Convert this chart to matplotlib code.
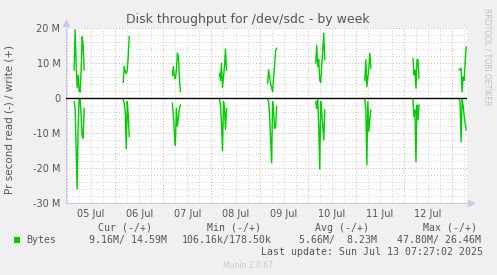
import numpy as np
import pandas as pd
import matplotlib
matplotlib.use("Agg")
import matplotlib.pyplot as plt
import matplotlib.dates as mdates
from matplotlib.ticker import MultipleLocator, FuncFormatter

# munin week graph, 30 min steps, values in MB/s
t_start = "2025-07-04 23:27"
t_end = "2025-07-13 07:27"

burst_start = ["2025-07-05 03:30", "2025-07-06 04:00", "2025-07-07 04:30",
               "2025-07-08 04:00", "2025-07-09 04:00", "2025-07-10 04:00",
               "2025-07-11 04:30", "2025-07-12 04:30", "2025-07-13 03:30"]

write_mb = [
    [8, 19.5, 10, 3, 6.5, 2, 1.7, 8, 17.5, 15, 8],
    [4.5, 9, 7.5, 7, 8, 12, 17.5],
    [6.5, 9, 6, 5.5, 8, 12.8, 12, 6, 1.8],
    [7, 5, 10, 3, 6, 9, 14, 8],
    [4.2, 8, 6, 4, 3, 1.8, 6, 9.5, 13.5, 14.2],
    [10, 15, 9, 11, 5, 4.5, 9, 14, 18.5, 11],
    [5, 10.9, 3.2, 6, 8.5, 12.8, 8.5],
    [11.3, 6.6, 8, 2.8, 10.9, 11, 5.6],
    [8, 8.3, 8.5, 1.8, 6, 5, 10, 14.59],
]

read_mb = [
    [1, 3, 14, 26, 8, 0.5, 0.3, 5, 11, 11.5, 3],
    [0.5, 1.5, 4, 14.5, 1, 5, 11],
    [1.5, 5, 10, 13.5, 3, 8, 6, 3, 2],
    [0.5, 2, 7, 15, 1, 3, 9, 3],
    [0.5, 1, 5, 12, 18.5, 1, 4, 8.7, 8, 2.5],
    [1, 3, 0.5, 8, 20.3, 1, 4, 8, 12, 3.4],
    [0.5, 3, 19.1, 1, 9.5, 6, 3.5],
    [0.5, 5.3, 3.4, 18.2, 2, 6.2, 2],
    [0.5, 1, 12.5, 0.5, 2, 5, 7, 9.16],
]

legend_head = ["Cur (-/+)", "Min (-/+)", "Avg (-/+)", "Max (-/+)"]
legend_vals = ["9.16M/ 14.59M", "106.16k/178.50k", "5.66M/  8.23M", "47.80M/ 26.46M"]

# build the series with gaps between the bursts
idx = pd.date_range("2025-07-04 23:30", "2025-07-13 07:30", freq="30min")
write = pd.Series(np.nan, index=idx)
read = pd.Series(np.nan, index=idx)
for s, w, r in zip(burst_start, write_mb, read_mb):
    t = pd.date_range(s, periods=len(w), freq="30min")
    write[t] = np.array(w) * 1e6
    read[t] = np.array(r) * 1e6

W, H = 497, 275
fig = plt.figure(figsize=(W / 100, H / 100), dpi=100, facecolor="#f0f0f0")
ax = fig.add_axes([66 / W, (H - 203) / H, 401 / W, 175 / H])
ax.set_facecolor("white")

txt = "#555555"

# grid
dot = (0, (1, 2))
for d in pd.date_range("2025-07-04", "2025-07-14", freq="6h"):
    if d.hour == 0:
        ax.axvline(d, color="#e8a8a8", lw=0.7, ls=dot, zorder=1)
    else:
        ax.axvline(d, color="#cfcfcf", lw=0.7, ls=dot, zorder=1)
ax.yaxis.set_major_locator(MultipleLocator(10e6))
ax.yaxis.set_minor_locator(MultipleLocator(2e6))
ax.grid(which="minor", axis="y", color="#cfcfcf", lw=0.7, ls=dot)
ax.grid(which="major", axis="y", color="#e8a8a8", lw=0.7, ls=dot)
ax.set_axisbelow(True)

ax.plot(write.index, write.values, color="#00cc00", lw=1.0, zorder=3)
ax.plot(read.index, -read.values, color="#00cc00", lw=1.0, zorder=3)
ax.axhline(0, color="black", lw=1.0, zorder=4)

ax.set_xlim(pd.Timestamp(t_start), pd.Timestamp(t_end))
ax.set_ylim(-30e6, 20e6)

ax.xaxis.set_major_locator(mdates.HourLocator(byhour=[12]))
ax.xaxis.set_major_formatter(mdates.DateFormatter("%d %b"))
ax.yaxis.set_major_formatter(FuncFormatter(lambda v, p: "0" if v == 0 else "%d M" % (v / 1e6)))
ax.tick_params(axis="both", which="both", length=0, labelsize=7, colors=txt, pad=4)

for side in ["top", "right"]:
    ax.spines[side].set_visible(False)
for side in ["left", "bottom"]:
    ax.spines[side].set_color("#c8c8f0")
    ax.spines[side].set_linewidth(0.8)
ax.plot([0], [1.03], marker="^", ms=4, color="#c8c8f0", transform=ax.transAxes, clip_on=False)
ax.plot([1.01], [0], marker=">", ms=4, color="#c8c8f0", transform=ax.transAxes, clip_on=False)

fig.text(248 / W, 1 - 20 / H, "Disk throughput for /dev/sdc - by week", ha="center", va="center",
         fontsize=9, color=txt)
fig.text(10 / W, 1 - 120 / H, "Pr second read (-) / write (+)", ha="center", va="center",
         rotation=90, fontsize=7.5, color=txt)
fig.text(487 / W, 1 - 57 / H, "RRDTOOL / TOBI OETIKER", ha="center", va="center",
         rotation=270, fontsize=5.5, color="#c0c0c0")

mono = dict(family="DejaVu Sans Mono", fontsize=7.1, color=txt, va="center")
head_x = [98, 207, 315, 423]
val_x = [89, 182, 299, 397]
for x, s in zip(head_x, legend_head):
    fig.text(x / W, 1 - 228 / H, s, **mono)
for x, s in zip(val_x, legend_vals):
    fig.text(x / W, 1 - 240 / H, s, **mono)
fig.text(26 / W, 1 - 240 / H, "Bytes", **mono)
fig.patches.append(plt.Rectangle((14 / W, 1 - 243 / H), 6 / W, 6 / H, transform=fig.transFigure,
                                 facecolor="#00cc00", edgecolor="none"))
fig.text(483 / W, 1 - 252 / H, "Last update: Sun Jul 13 07:27:02 2025", ha="right",
         **{k: v for k, v in mono.items()})
fig.text(248 / W, 1 - 265 / H, "Munin 2.0.67", ha="center", va="center", fontsize=5.5,
         color="#c8c8c8")

fig.savefig("out.png", dpi=100, facecolor=fig.get_facecolor())
